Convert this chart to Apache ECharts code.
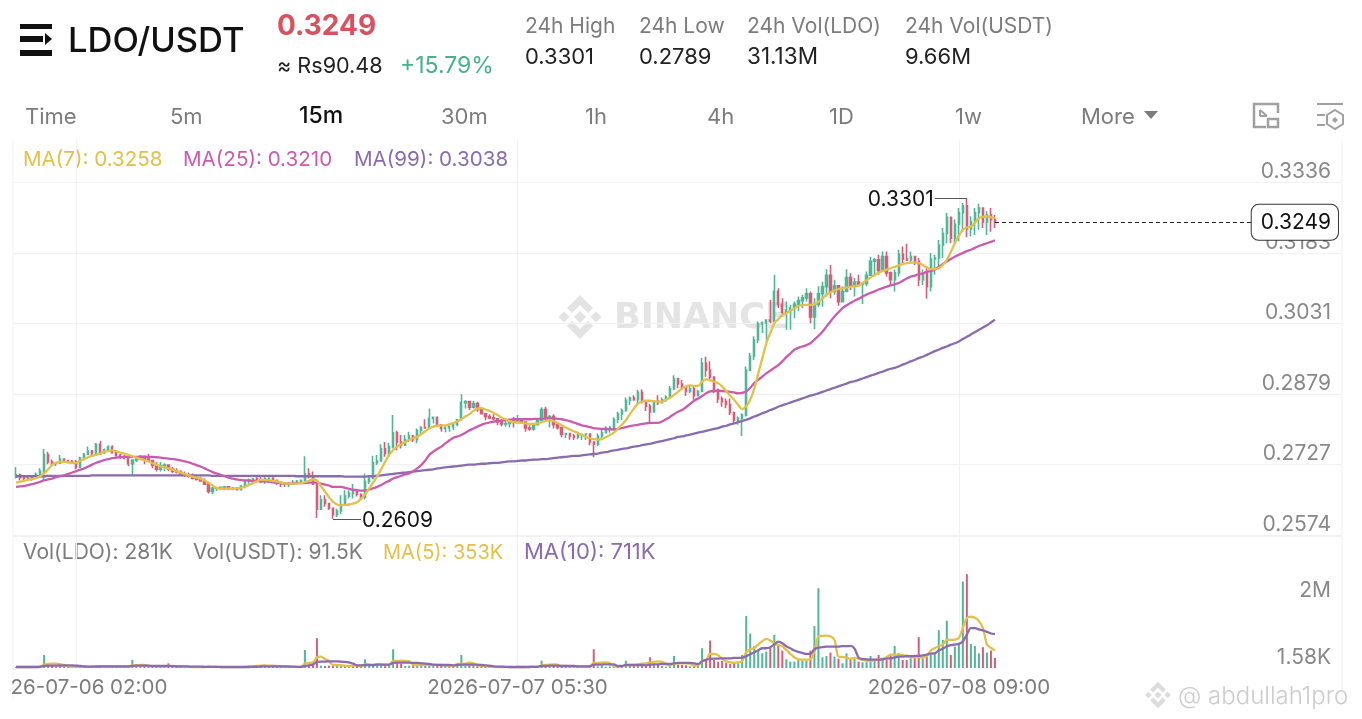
<!DOCTYPE html>
<html><head><meta charset="utf-8"><title>LDO/USDT</title>
<style>html,body{margin:0;padding:0;background:#fff}#c{width:1362px;height:719px}</style>
<script src="https://cdn.jsdelivr.net/npm/echarts@6/dist/echarts.min.js"></script>
</head><body><div id="c"></div><script>
const priceTicks=[.2574,.2727,.2879,.3031,.3183,.3336];
const volTicks=[1580,2000000];
const volTickLabels=['1.58K','2M'];
const timeTickIndex=[15,125,235];
const timeTickLabels=['2026-07-06 02:00','2026-07-07 05:30','2026-07-08 09:00'];
const lastPrice=.3249,highPrice=.3301,lowPrice=.2609,firstOpen=.2699;
const closes=[
.2704,.2698,.2696,.2695,.2698,.2705,.2712,.2748,.2732,.2730,
.2729,.2738,.2735,.2733,.2732,.2720,.2740,.2748,.2756,.2750,
.2770,.2752,.2758,.2764,.2752,.2746,.2742,.2740,.2728,.2736,
.2738,.2744,.2738,.2735,.2725,.2716,.2724,.2725,.2716,.2712,
.2710,.2706,.2703,.2701,.2697,.2694,.2691,.2684,.2668,.2675,
.2676,.2677,.2678,.2675,.2673,.2672,.2680,.2690,.2693,.2695,
.2692,.2690,.2696,.2697,.2692,.2688,.2685,.2684,.2686,.2688,
.2690,.2692,.2706,.2700,.2684,.2630,.2650,.2642,.2632,.2618,
.2626,.2640,.2658,.2664,.2668,.2662,.2656,.2690,.2696,.2730,
.2734,.2760,.2750,.2765,.2795,.2775,.2768,.2780,.2788,.2780,
.2800,.2806,.2805,.2826,.2828,.2812,.2804,.2806,.2808,.2813,
.2823,.2860,.2862,.2850,.2858,.2845,.2836,.2830,.2827,.2825,
.2818,.2814,.2815,.2820,.2817,.2822,.2818,.2805,.2803,.2812,
.2822,.2845,.2828,.2830,.2812,.2806,.2792,.2793,.2788,.2785,
.2790,.2791,.2792,.2775,.2770,.2788,.2795,.2805,.2806,.2824,
.2835,.2843,.2865,.2870,.2866,.2882,.2862,.2852,.2840,.2863,
.2860,.2866,.2872,.2890,.2912,.2900,.2892,.2884,.2890,.2875,
.2884,.2945,.2930,.2915,.2888,.2868,.2862,.2856,.2838,.2822,
.2826,.2833,.2930,.2960,.2995,.3030,.3032,.3038,.3036,.3100,
.3072,.3055,.3060,.3064,.3072,.3080,.3086,.3095,.3045,.3072,
.3095,.3110,.3135,.3100,.3112,.3078,.3100,.3130,.3112,.3120,
.3116,.3117,.3135,.3165,.3168,.3145,.3175,.3140,.3125,.3140,
.3180,.3170,.3168,.3175,.3165,.3125,.3140,.3110,.3170,.3172,
.3200,.3225,.3260,.3215,.3245,.3270,.3285,.3235,.3250,.3270,
.3280,.3250,.3265,.3255,.3249];
const highs=[
.2721,.2707,.2700,.2700,.2698,.2709,.2718,.2760,.2754,.2737,
.2732,.2747,.2739,.2736,.2736,.2736,.2743,.2751,.2765,.2757,
.2773,.2777,.2761,.2768,.2768,.2754,.2750,.2747,.2747,.2737,
.2741,.2747,.2743,.2749,.2736,.2732,.2732,.2729,.2725,.2721,
.2718,.2714,.2711,.2709,.2707,.2703,.2700,.2696,.2685,.2678,
.2677,.2678,.2680,.2680,.2678,.2678,.2682,.2694,.2696,.2698,
.2700,.2700,.2700,.2698,.2698,.2693,.2688,.2688,.2688,.2693,
.2693,.2694,.2744,.2718,.2711,.2684,.2660,.2660,.2642,.2631,
.2631,.2660,.2671,.2671,.2684,.2671,.2664,.2707,.2700,.2745,
.2747,.2770,.2775,.2773,.2833,.2799,.2790,.2790,.2797,.2790,
.2804,.2809,.2824,.2847,.2829,.2828,.2811,.2809,.2811,.2815,
.2824,.2878,.2865,.2857,.2864,.2862,.2847,.2835,.2835,.2835,
.2826,.2824,.2822,.2821,.2829,.2833,.2825,.2815,.2811,.2814,
.2824,.2850,.2851,.2833,.2835,.2815,.2804,.2795,.2790,.2792,
.2793,.2792,.2794,.2793,.2775,.2793,.2802,.2809,.2809,.2828,
.2840,.2847,.2871,.2873,.2876,.2887,.2888,.2865,.2857,.2864,
.2876,.2871,.2876,.2896,.2919,.2912,.2909,.2891,.2897,.2895,
.2887,.2956,.2959,.2949,.2916,.2880,.2873,.2869,.2869,.2841,
.2830,.2837,.2938,.2967,.3003,.3035,.3035,.3040,.3082,.3136,
.3107,.3085,.3078,.3071,.3078,.3089,.3093,.3107,.3100,.3085,
.3111,.3121,.3148,.3157,.3125,.3111,.3111,.3148,.3139,.3129,
.3136,.3118,.3143,.3175,.3172,.3179,.3186,.3186,.3143,.3147,
.3190,.3197,.3203,.3186,.3177,.3172,.3147,.3150,.3183,.3179,
.3211,.3237,.3269,.3237,.3255,.3280,.3291,.3301,.3262,.3280,
.3289,.3275,.3273,.3280,.3265];
const lows=[
.2696,.2692,.2692,.2692,.2691,.2698,.2698,.2692,.2727,.2725,
.2723,.2729,.2732,.2729,.2729,.2716,.2718,.2737,.2747,.2743,
.2749,.2747,.2749,.2754,.2750,.2743,.2739,.2737,.2723,.2703,
.2732,.2737,.2727,.2732,.2718,.2711,.2711,.2712,.2712,.2708,
.2707,.2703,.2700,.2698,.2694,.2692,.2689,.2682,.2664,.2662,
.2669,.2671,.2671,.2671,.2671,.2671,.2672,.2675,.2685,.2687,
.2687,.2686,.2684,.2687,.2687,.2682,.2678,.2678,.2677,.2682,
.2685,.2685,.2692,.2696,.2682,.2611,.2646,.2635,.2628,.2609,
.2613,.2619,.2653,.2653,.2653,.2657,.2651,.2651,.2684,.2700,
.2725,.2736,.2743,.2743,.2761,.2757,.2761,.2772,.2775,.2775,
.2772,.2790,.2804,.2811,.2815,.2809,.2797,.2796,.2797,.2801,
.2809,.2822,.2847,.2844,.2847,.2840,.2835,.2822,.2824,.2822,
.2811,.2809,.2808,.2806,.2806,.2816,.2815,.2797,.2799,.2799,
.2815,.2826,.2822,.2806,.2804,.2802,.2785,.2783,.2780,.2779,
.2781,.2779,.2779,.2768,.2742,.2766,.2780,.2793,.2795,.2799,
.2816,.2822,.2840,.2855,.2864,.2855,.2858,.2842,.2815,.2838,
.2855,.2858,.2862,.2869,.2887,.2891,.2887,.2874,.2880,.2866,
.2873,.2887,.2916,.2909,.2880,.2859,.2851,.2848,.2833,.2815,
.2812,.2788,.2830,.2931,.2952,.2988,.3010,.2992,.3031,.3064,
.3064,.3046,.3017,.3017,.3042,.3057,.3064,.3078,.3031,.3019,
.3067,.3067,.3089,.3085,.3093,.3069,.3082,.3107,.3103,.3089,
.3111,.3073,.3111,.3136,.3132,.3136,.3143,.3132,.3111,.3100,
.3132,.3161,.3165,.3161,.3157,.3111,.3114,.3084,.3100,.3136,
.3150,.3172,.3204,.3204,.3204,.3208,.3229,.3217,.3219,.3222,
.3233,.3237,.3222,.3229,.3237];
const ma7=[
.2687,.2689,.2691,.2693,.2695,.2697,.2701,.2707,.2716,.2725,
.2730,.2732,.2732,.2731,.2730,.2730,.2734,.2738,.2742,.2745,
.2747,.2750,.2754,.2756,.2757,.2755,.2752,.2750,.2747,.2744,
.2741,.2738,.2736,.2733,.2729,.2726,.2722,.2720,.2718,.2715,
.2712,.2709,.2706,.2703,.2700,.2698,.2696,.2692,.2687,.2681,
.2676,.2674,.2674,.2674,.2674,.2675,.2676,.2678,.2682,.2686,
.2690,.2693,.2693,.2692,.2691,.2690,.2687,.2685,.2685,.2685,
.2685,.2686,.2688,.2691,.2694,.2692,.2680,.2668,.2656,.2646,
.2640,.2638,.2639,.2640,.2642,.2645,.2652,.2662,.2674,.2687,
.2700,.2716,.2732,.2747,.2757,.2765,.2770,.2775,.2779,.2783,
.2786,.2792,.2798,.2804,.2808,.2810,.2811,.2811,.2813,.2816,
.2819,.2824,.2830,.2835,.2842,.2847,.2848,.2845,.2842,.2838,
.2833,.2828,.2824,.2820,.2818,.2817,.2816,.2815,.2814,.2814,
.2815,.2818,.2820,.2822,.2820,.2816,.2811,.2806,.2802,.2798,
.2795,.2790,.2786,.2783,.2781,.2780,.2781,.2785,.2790,.2795,
.2803,.2812,.2822,.2835,.2847,.2858,.2862,.2864,.2864,.2863,
.2862,.2862,.2866,.2870,.2876,.2883,.2890,.2895,.2897,.2896,
.2896,.2905,.2910,.2908,.2905,.2902,.2895,.2885,.2875,.2866,
.2855,.2846,.2852,.2866,.2890,.2923,.2955,.2988,.3010,.3031,
.3040,.3049,.3053,.3058,.3063,.3069,.3070,.3071,.3071,.3072,
.3078,.3085,.3093,.3098,.3102,.3105,.3107,.3108,.3110,.3111,
.3112,.3118,.3124,.3130,.3136,.3140,.3144,.3147,.3150,.3153,
.3156,.3159,.3161,.3162,.3162,.3161,.3157,.3152,.3148,.3148,
.3150,.3157,.3168,.3185,.3204,.3220,.3233,.3238,.3240,.3248,
.3258,.3261,.3262,.3260,.3258];
const ma25=[
.2678,.2679,.2680,.2682,.2684,.2686,.2689,.2692,.2694,.2696,
.2699,.2701,.2703,.2706,.2709,.2712,.2715,.2718,.2722,.2726,
.2730,.2733,.2736,.2738,.2740,.2741,.2742,.2743,.2743,.2743,
.2743,.2743,.2743,.2743,.2743,.2742,.2741,.2740,.2739,.2738,
.2737,.2735,.2733,.2731,.2728,.2725,.2722,.2718,.2714,.2710,
.2707,.2704,.2701,.2698,.2696,.2694,.2693,.2692,.2692,.2691,
.2691,.2690,.2690,.2689,.2688,.2687,.2686,.2685,.2685,.2685,
.2686,.2686,.2686,.2687,.2687,.2687,.2685,.2683,.2681,.2678,
.2678,.2678,.2676,.2674,.2672,.2671,.2670,.2670,.2672,.2675,
.2678,.2682,.2687,.2691,.2696,.2699,.2702,.2705,.2707,.2712,
.2718,.2725,.2735,.2747,.2754,.2760,.2765,.2772,.2778,.2784,
.2787,.2790,.2795,.2800,.2804,.2808,.2812,.2815,.2817,.2819,
.2820,.2821,.2822,.2823,.2824,.2824,.2824,.2824,.2824,.2825,
.2825,.2825,.2826,.2826,.2826,.2825,.2824,.2822,.2820,.2817,
.2814,.2811,.2809,.2807,.2805,.2804,.2803,.2803,.2802,.2802,
.2803,.2805,.2807,.2809,.2811,.2812,.2814,.2815,.2816,.2816,
.2816,.2819,.2824,.2829,.2835,.2840,.2844,.2850,.2857,.2864,
.2869,.2874,.2880,.2884,.2885,.2885,.2885,.2884,.2883,.2882,
.2880,.2881,.2884,.2892,.2902,.2909,.2916,.2923,.2929,.2935,
.2941,.2949,.2958,.2966,.2974,.2978,.2981,.2984,.2988,.2996,
.3004,.3013,.3024,.3035,.3046,.3055,.3064,.3070,.3075,.3080,
.3084,.3089,.3093,.3097,.3100,.3104,.3107,.3110,.3113,.3115,
.3118,.3123,.3128,.3132,.3134,.3137,.3139,.3142,.3144,.3147,
.3153,.3159,.3165,.3170,.3175,.3179,.3183,.3187,.3190,.3194,
.3198,.3201,.3204,.3207,.3210];
const ma99=[
.2701,.2701,.2701,.2701,.2701,.2701,.2701,.2701,.2702,.2702,
.2702,.2702,.2702,.2702,.2702,.2702,.2702,.2702,.2702,.2703,
.2703,.2703,.2703,.2703,.2703,.2703,.2703,.2703,.2703,.2703,
.2703,.2703,.2703,.2703,.2703,.2703,.2703,.2703,.2703,.2703,
.2703,.2703,.2703,.2703,.2703,.2703,.2703,.2703,.2703,.2702,
.2702,.2702,.2702,.2702,.2702,.2702,.2702,.2702,.2702,.2702,
.2702,.2702,.2702,.2702,.2702,.2702,.2702,.2702,.2702,.2702,
.2701,.2701,.2701,.2701,.2701,.2701,.2701,.2701,.2701,.2701,
.2701,.2701,.2700,.2700,.2700,.2700,.2700,.2700,.2701,.2701,
.2702,.2703,.2704,.2705,.2706,.2707,.2708,.2709,.2710,.2711,
.2712,.2713,.2714,.2715,.2716,.2718,.2719,.2720,.2721,.2722,
.2723,.2724,.2725,.2726,.2726,.2727,.2728,.2728,.2729,.2730,
.2730,.2731,.2732,.2733,.2733,.2734,.2735,.2735,.2736,.2737,
.2737,.2738,.2738,.2739,.2740,.2741,.2742,.2743,.2744,.2745,
.2745,.2746,.2747,.2748,.2749,.2750,.2752,.2753,.2755,.2757,
.2758,.2760,.2761,.2763,.2765,.2766,.2768,.2770,.2771,.2773,
.2775,.2777,.2779,.2781,.2783,.2786,.2787,.2789,.2791,.2793,
.2795,.2797,.2799,.2801,.2803,.2805,.2808,.2810,.2813,.2815,
.2818,.2820,.2823,.2826,.2830,.2833,.2837,.2840,.2844,.2847,
.2851,.2854,.2857,.2860,.2863,.2866,.2869,.2872,.2875,.2877,
.2880,.2883,.2886,.2889,.2892,.2895,.2898,.2901,.2904,.2906,
.2909,.2912,.2915,.2918,.2921,.2924,.2927,.2930,.2933,.2935,
.2938,.2942,.2945,.2949,.2952,.2956,.2959,.2963,.2967,.2971,
.2974,.2978,.2981,.2985,.2988,.2992,.2997,.3002,.3007,.3012,
.3017,.3022,.3027,.3033,.3039];
// volumes in thousands of LDO
const volK=[
30,35,25,25,30,40,60,390,90,60,
40,50,35,30,35,40,45,40,50,35,
50,70,40,45,60,50,40,35,60,240,
60,50,45,60,55,50,40,35,140,40,
30,30,25,30,25,30,30,35,70,40,
25,20,20,20,20,25,30,60,70,80,
50,60,100,60,50,40,35,30,30,25,
30,35,540,70,80,890,70,60,70,80,
90,90,60,40,70,60,40,260,70,80,
80,80,70,90,560,170,130,60,70,100,
90,90,100,110,90,90,80,60,50,50,
60,390,80,80,100,60,40,40,30,30,
25,25,25,25,30,30,35,40,60,40,
40,220,90,70,60,60,30,40,50,50,
40,40,40,60,560,50,60,40,50,60,
40,50,220,80,60,70,90,90,320,100,
90,60,40,90,360,100,90,80,50,60,
110,590,240,820,240,190,210,160,120,120,
140,390,1550,1030,660,540,440,490,620,985,
690,520,260,190,190,240,220,220,520,1250,
2380,320,360,460,340,280,140,440,260,290,
190,170,170,360,210,390,240,240,390,660,
440,240,240,290,320,920,290,360,390,440,
1130,840,1410,390,640,740,2580,2800,720,660,
440,620,460,520,300];
const volMa5K=[
30,30,30,30,30,35,40,100,120,130,
130,115,90,50,40,40,40,40,40,45,
50,50,50,50,50,50,50,45,45,80,
85,90,90,60,55,50,50,50,65,60,
55,50,45,35,30,30,30,30,40,40,
35,30,25,25,25,25,25,30,40,55,
60,70,75,70,70,60,50,40,35,35,
30,30,130,150,170,320,340,270,210,90,
90,80,70,60,70,70,60,110,100,100,
115,110,90,90,210,210,220,210,200,100,
90,90,90,100,90,95,90,85,75,60,
120,120,130,160,140,75,60,50,40,35,
30,30,25,25,25,30,30,30,40,40,
40,80,90,100,110,100,60,60,50,40,
50,45,45,45,150,150,160,170,150,50,
50,50,90,90,90,100,130,140,160,180,
200,180,130,70,130,130,140,140,130,70,
80,200,240,420,420,380,280,200,170,150,
170,200,480,560,600,700,800,870,820,730,
690,650,540,420,320,260,250,250,260,500,
940,960,965,950,840,340,330,310,280,300,
280,240,210,210,230,250,270,320,400,400,
390,380,370,340,320,320,320,350,520,600,
650,700,840,840,850,890,1200,1490,1530,1500,
1400,1200,700,600,520];
const volMa10K=[
30,30,30,30,30,30,35,60,70,70,
70,75,75,80,80,70,60,45,40,40,
45,45,50,50,50,50,50,50,50,60,
70,70,70,70,60,60,60,60,60,55,
50,50,50,45,40,40,40,35,35,35,
35,30,30,30,30,30,30,30,30,35,
40,45,50,50,50,50,50,50,45,40,
35,35,60,80,100,180,190,190,200,200,
200,190,180,170,130,80,80,90,90,85,
100,100,100,100,150,160,160,160,160,150,
150,140,130,120,100,95,90,90,90,80,
90,100,100,100,100,100,90,80,70,50,
40,40,35,30,30,30,30,30,30,35,
35,60,60,70,70,70,60,60,60,60,
50,50,50,50,100,100,100,110,110,110,
60,60,90,90,90,90,90,80,100,110,
110,120,120,120,140,150,150,150,150,140,
120,200,240,270,280,280,290,290,290,300,
300,310,350,410,470,530,590,590,620,700,
790,740,650,590,520,480,450,420,420,560,
610,620,640,640,640,640,650,650,660,580,
310,270,260,250,250,250,260,280,290,310,
340,340,350,350,360,360,380,400,430,440,
520,580,640,680,700,720,790,1000,1190,1190,
1150,1120,1080,1030,1010];

const GREEN='#53b597',RED='#d0607a',GOLD='#e2c04a',PINK='#c95bb0',PURPLE='#8b6bb0';
const FONT='Inter, "Noto Sans", sans-serif';
const opens=[firstOpen,...closes.slice(0,-1)];
const slotCount=331;
const categories=Array.from({length:slotCount},(_,i)=>String(i));
const ohlc=closes.map((c,i)=>[opens[i],c,lows[i],highs[i]]);
const volBars=volK.map((v,i)=>({value:v*1000,itemStyle:{color:closes[i]>=opens[i]?GREEN:RED}}));
const k1000=a=>a.map(v=>v*1000);

function txt(text,x,y,size,fill,weight,fam){return {type:'text',z:0,silent:true,style:{text,x,y:y+1.5,font:`${weight||400} ${size}px ${fam||FONT}`,fill,verticalAlign:'middle',align:'left'}};}
function poly(points,fill){return {type:'polygon',z:0,silent:true,shape:{points},style:{fill}};}
function diamond(cx,cy,r,fill){return poly([[cx,cy-r],[cx+r,cy],[cx,cy+r],[cx-r,cy]],fill);}
function logo(cx,cy,s,fill){
 const p=(a)=>a.map(([x,y])=>[cx+x*s,cy+y*s]);
 return [
  poly(p([[0,-22],[13,-9],[8,-4],[0,-12],[-8,-4],[-13,-9]]),fill),
  poly(p([[0,22],[13,9],[8,4],[0,12],[-8,4],[-13,9]]),fill),
  diamond(cx,cy,6*s,fill),diamond(cx-16*s,cy,5.5*s,fill),diamond(cx+16*s,cy,5.5*s,fill)];
}
function vline(x,y1,y2,c){return {type:'line',z:0,silent:true,shape:{x1:x,y1,x2:x,y2},style:{stroke:c||'#f1f1f1',lineWidth:1}};}
function box(x,y,w,h,fill){return {type:'rect',z:0,silent:true,shape:{x,y,width:w,height:h},style:{fill}};}
function sbox(x,y,w,h,c,lw){return {type:'rect',z:0,silent:true,shape:{x,y,width:w,height:h},style:{fill:'none',stroke:c,lineWidth:lw}};}
function seg(x1,y1,x2,y2,c,lw){return {type:'line',z:0,silent:true,shape:{x1,y1,x2,y2},style:{stroke:c,lineWidth:lw}};}

const G='#7c7c7c',IC='#a0a0a0';
const elements=[
 // header
 box(20,24,32,5,'#111'),box(20,36,23,6,'#111'),box(20,50,32,6,'#111'),
 poly([[45,33],[52,39],[45,45]],'#111'),
 txt('LDO/USDT',68,40,34.5,'#111',500),
 txt('0.3249',277,25,28,'#d9505f',700),
 txt('≈ Rs90.48',277,65,21.6,'#222',400),
 txt('+15.79%',400,65,23,'#47b08c',400),
 txt('24h High',525,25,21,G),txt('0.3301',525,56,22,'#222'),
 txt('24h Low',639,25,21,G),txt('0.2789',639,56,22,'#222'),
 txt('24h Vol(LDO)',747,25,21,G),txt('31.13M',747,56,22.5,'#222'),
 txt('24h Vol(USDT)',905,25,21,G),txt('9.66M',905,56,22,'#222'),
 // tabs
 txt('Time',25,116,22,G),txt('5m',170,116,22,G),txt('15m',299,115,23,'#111',500),
 txt('30m',441,116,22,G),txt('1h',585,116,22,G),txt('4h',707,116,22,G),
 txt('1D',829,116,22,G),txt('1w',955,116,22,G),txt('More',1081,116,22,G),
 poly([[1144,111],[1158,111],[1151,119]],G),
 sbox(1254,104,24,23,IC,2.5),box(1266,113,14,16,'#fff'),sbox(1268,119,10,8,IC,2.5),
 seg(1260,110,1267,116,IC,2),seg(1260,116,1267,116,IC,2),seg(1260,110,1260,116,IC,2),
 seg(1317,104,1343,104,IC,2),seg(1317,115,1325,115,IC,2),seg(1317,125,1325,125,IC,2),
 {type:'polygon',z:0,silent:true,shape:{points:[[1335,110],[1343,115],[1343,124],[1335,129],[1327,124],[1327,115]]},style:{fill:'none',stroke:IC,lineWidth:2}},
 diamond(1335,120,3,IC),
 // chart frame
 vline(13,140,700),vline(1342,140,700),
 // watermark
 ...logo(580,317,1,'#e3e3e3'),
 txt('BINANCE',614,317,35,'#e4e4e4',700,'"DejaVu Sans"'),
 // legends
 txt('MA(7): 0.3258',23,158,20.6,GOLD),txt('MA(25): 0.3210',183,158,20.6,PINK),txt('MA(99): 0.3038',354,158,20.6,PURPLE),
 txt('Vol(LDO): 281K',23,551,21,G),txt('Vol(USDT): 91.5K',193,551,21,G),txt('MA(5): 353K',383,551,20,GOLD),txt('MA(10): 711K',524,551,22,PURPLE),
 // author watermark
 ...logo(1158,695,.6,'#dcdcdc'),
 txt('@ abdullah1pro',1178,695,24,'#cccccc',300),
 // left clip of the first time label
 {type:'rect',z:100,silent:true,shape:{x:0,y:672,width:12,height:30},style:{fill:'#fff'}}
];

const splitX={show:true,lineStyle:{color:'#f1f1f1',width:1},alignWithLabel:true};
const option={
 animation:false,backgroundColor:'#fff',textStyle:{fontFamily:FONT},
 graphic:{elements},
 grid:[{left:14,right:20,top:140,height:396,outerBoundsMode:'none'},{left:14,right:20,top:536,height:132,outerBoundsMode:'none'}],
 xAxis:[
  {type:'category',gridIndex:0,data:categories,boundaryGap:true,
   axisLine:{show:true,lineStyle:{color:'#f1f1f1'}},axisTick:{show:false,customValues:timeTickIndex,alignWithLabel:true},
   axisLabel:{show:false,customValues:timeTickIndex},splitLine:splitX},
  {type:'category',gridIndex:1,data:categories,boundaryGap:true,
   axisLine:{show:false},axisTick:{show:false,customValues:timeTickIndex,alignWithLabel:true},
   axisLabel:{show:true,customValues:timeTickIndex,margin:9,fontSize:20.5,color:G,fontFamily:FONT,
     formatter:(v)=>timeTickLabels[timeTickIndex.indexOf(+v)]||''},splitLine:splitX}
 ],
 yAxis:[
  {type:'value',gridIndex:0,position:'right',min:.2572,max:.34268,scale:true,
   axisLine:{show:false},axisTick:{show:false,customValues:priceTicks},
   axisLabel:{show:true,inside:true,customValues:priceTicks,margin:11,fontSize:21,color:'#888',verticalAlign:'bottom',fontFamily:FONT,formatter:v=>(+v).toFixed(4)},
   splitLine:{show:true,lineStyle:{color:'#f1f1f1'}}},
  {type:'value',gridIndex:1,position:'right',min:0,max:3940000,
   axisLine:{show:false},axisTick:{show:false,customValues:volTicks},
   axisLabel:{show:true,inside:true,customValues:volTicks,margin:11,fontSize:21,color:'#888',verticalAlign:'bottom',fontFamily:FONT,
     formatter:v=>volTickLabels[volTicks.indexOf(+v)]||''},
   splitLine:{show:false}}
 ],
 series:[
  {type:'candlestick',name:'LDO/USDT',xAxisIndex:0,yAxisIndex:0,data:ohlc,barWidth:1.8,z:2,
   itemStyle:{color:GREEN,color0:RED,borderColor:GREEN,borderColor0:RED,borderWidth:1.6},
   markLine:{silent:true,symbol:'none',animation:false,z:20,precision:4,data:[
    [{coord:[244,lastPrice],lineStyle:{color:'#222',type:[4,3],width:1},
      label:{show:true,position:'end',distance:0,formatter:lastPrice.toFixed(4),fontSize:21,fontFamily:FONT,color:'#111',backgroundColor:'#fff',borderColor:'#333',borderWidth:1,borderRadius:7,padding:[7,7,7,9]}},
     {coord:[308,lastPrice]}],
    [{coord:[229,highPrice],lineStyle:{color:'#555',type:'solid',width:1},
      label:{show:true,position:'start',distance:1,offset:[0,1.5],formatter:highPrice.toFixed(4),fontSize:21,fontFamily:FONT,color:'#111'}},
     {coord:[237,highPrice]}],
    [{coord:[79,lowPrice],lineStyle:{color:'#555',type:'solid',width:1},
      label:{show:true,position:'end',distance:1,offset:[0,2],formatter:lowPrice.toFixed(4),fontSize:21,fontFamily:FONT,color:'#111'}},
     {coord:[86,lowPrice]}]
   ]}},
  {type:'line',name:'MA99',xAxisIndex:0,yAxisIndex:0,data:ma99,showSymbol:false,smooth:.3,lineStyle:{color:PURPLE,width:2.3},z:3},
  {type:'line',name:'MA25',xAxisIndex:0,yAxisIndex:0,data:ma25,showSymbol:false,smooth:.3,lineStyle:{color:PINK,width:2.3},z:4},
  {type:'line',name:'MA7',xAxisIndex:0,yAxisIndex:0,data:ma7,showSymbol:false,smooth:.3,lineStyle:{color:GOLD,width:2.3},z:5},
  {type:'bar',name:'Vol',xAxisIndex:1,yAxisIndex:1,data:volBars,barWidth:2,z:2},
  {type:'line',name:'VolMA5',xAxisIndex:1,yAxisIndex:1,data:k1000(volMa5K),showSymbol:false,smooth:.3,lineStyle:{color:GOLD,width:2.3},z:3},
  {type:'line',name:'VolMA10',xAxisIndex:1,yAxisIndex:1,data:k1000(volMa10K),showSymbol:false,smooth:.3,lineStyle:{color:PURPLE,width:2.3},z:4}
 ]
};
echarts.init(document.getElementById('c')).setOption(option);
</script></body></html>
